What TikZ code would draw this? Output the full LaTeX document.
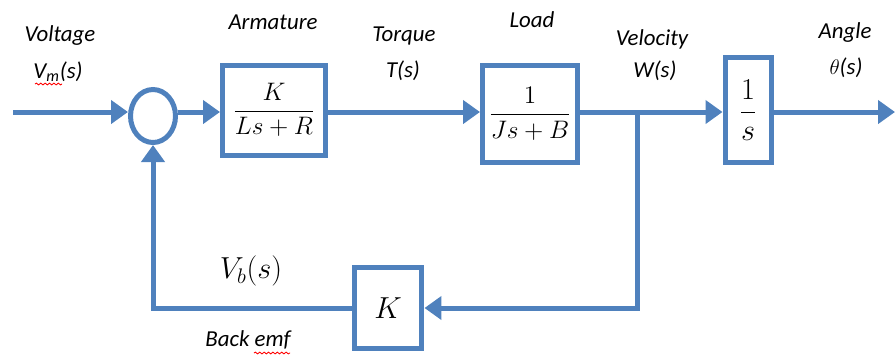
\documentclass[tikz,border=0pt]{standalone}
\usepackage{fontspec}
\setmainfont{Carlito}
\usetikzlibrary{arrows.meta,shapes.geometric,decorations.pathmorphing}
\definecolor{bluline}{RGB}{79,129,189}
\begin{document}
\begin{tikzpicture}[x=0.02cm,y=-0.02cm,
    blocco/.style={draw=bluline,line width=0.1cm,inner sep=0pt,font=\fontsize{13.5}{16}\selectfont},
    somma/.style={ellipse,draw=bluline,line width=0.1cm,minimum width=0.9cm,minimum height=1.06cm,inner sep=0pt},
    segnale/.style={draw=bluline,line width=0.1cm,-{Triangle[length=0.34cm,width=0.46cm]}},
    linea/.style={draw=bluline,line width=0.1cm},
    etich/.style={font=\fontsize{13}{15}\selectfont\itshape,inner sep=0pt},
    ondina/.style={draw=red,line width=0.5pt,decorate,decoration={snake,amplitude=0.5pt,segment length=2.5pt}}]
    \useasboundingbox (0,0) rectangle (896,360);
    %blocchi
    \node[somma] (sum) at (153,116) {};
    \node[blocco,minimum width=2.06cm,minimum height=1.8cm] (arm) at (274,110) {$\displaystyle\frac{K}{Ls+R}$};
    \node[blocco,minimum width=1.9cm,minimum height=1.94cm] (load) at (530,114) {$\displaystyle\frac{1}{Js+B}$};
    \node[blocco,minimum width=0.92cm,minimum height=2.1cm,font=\fontsize{18}{20}\selectfont] (int) at (748,110) {$\displaystyle\frac{1}{s}$};
    \node[blocco,minimum width=1.36cm,minimum height=1.62cm,font=\fontsize{18}{20}\selectfont] (fk) at (388,308) {$K$};
    %punti
    \coordinate (in) at (13,112);
    \coordinate (br) at (637,112);
    \coordinate (out) at (895,112);
    %segnali
    \draw[segnale] (in) -- (sum.west |- in);
    \draw[segnale] (sum.east |- in) -- (arm.west |- in);
    \draw[segnale] (arm.east |- in) -- (load.west |- in);
    \draw[linea] (load.east |- in) -- (br);
    \draw[segnale] (br) -- (int.west |- in);
    \draw[segnale] (int.east |- in) -- (out);
    \draw[segnale] (br) -- (br |- fk) -- (fk.east);
    \draw[segnale] (fk.west) -- (sum |- fk) -- (sum.south);
    %etichette
    \node[etich] (lvolt) at (60,36) {Voltage};
    \node[etich] (lvm) at (58,72) {V\textsubscript{m}(s)};
    \node[etich] (larm) at (273,22) {Armature};
    \node[etich] (ltor) at (404,36) {Torque};
    \node[etich] (lts) at (403,71) {T(s)};
    \node[etich] (lload) at (532,20) {Load};
    \node[etich] (lvel) at (652,39) {Velocity};
    \node[etich] (lws) at (655,71) {W(s)};
    \node[etich] (lang) at (845,33) {Angle};
    \node[etich] (lth) at (846,68) {$\theta$(s)};
    \node[font=\fontsize{17}{19}\selectfont,inner sep=0pt] (lvb) at (251,271) {$V_b(s)$};
    \node[etich] (lemf) at (248,340) {Back emf};
    %sottolineature
    \draw[ondina] (35,84) -- (62,84);
    \draw[ondina] (254,353) -- (290,353);
\end{tikzpicture}
\end{document}
